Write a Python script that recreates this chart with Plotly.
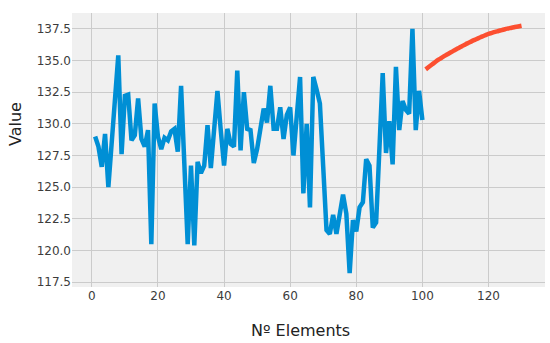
import plotly.graph_objects as go

x_hist = list(range(1, 101))
y_hist = [
    129.0, 128.2, 126.6, 129.2, 125.0, 128.3, 131.8, 135.4, 127.6, 132.2,
    132.3, 128.7, 129.1, 132.0, 128.8, 128.2, 129.5, 120.5, 131.6, 129.0,
    128.0, 128.9, 128.7, 129.4, 129.6, 127.8, 133.0, 127.0, 120.5, 126.7,
    120.4, 127.0, 126.1, 126.7, 129.9, 126.5, 129.5, 132.6, 129.5, 126.7,
    129.6, 128.4, 128.2, 134.2, 127.9, 132.5, 129.6, 129.5, 126.9, 128.0,
    129.6, 131.2, 130.1, 133.0, 129.6, 129.6, 131.3, 128.8, 130.7, 131.3,
    127.5, 130.6, 133.7, 124.5, 130.0, 123.4, 133.7, 132.7, 131.6, 126.6,
    121.6, 121.3, 122.8, 121.3, 122.9, 124.4, 122.9, 118.2, 122.4, 121.5,
    123.4, 123.8, 127.2, 126.7, 121.8, 122.2, 128.0, 134.0, 127.7, 130.2,
    126.8, 134.5, 129.5, 131.8, 131.1, 130.8, 137.5, 129.5, 132.6, 130.3,
]

x_pred = list(range(101, 131))
y_pred = [
    134.30, 134.50, 134.70, 134.90, 135.08, 135.24, 135.40, 135.55, 135.70, 135.85,
    135.99, 136.13, 136.27, 136.40, 136.53, 136.65, 136.77, 136.88, 136.99, 137.10,
    137.18, 137.26, 137.33, 137.40, 137.47, 137.53, 137.59, 137.64, 137.69, 137.74,
]

x_ticks = [0, 20, 40, 60, 80, 100, 120]
y_ticks = [117.5, 120.0, 122.5, 125.0, 127.5, 130.0, 132.5, 135.0, 137.5]
x_title = "Nº Elements"
y_title = "Value"

fig = go.Figure()
fig.add_trace(go.Scatter(x=x_hist, y=y_hist, mode="lines",
                         line=dict(color="#008fd5", width=4.5), showlegend=False))
fig.add_trace(go.Scatter(x=x_pred, y=y_pred, mode="lines",
                         line=dict(color="#fc4f30", width=4.5, shape="spline"),
                         showlegend=False))

L, R, T, B = 72, 5, 13, 56
W, H = 550, 343
pw, ph = W - L - R, H - T - B

fig.update_layout(
    width=W, height=H,
    margin=dict(l=L, r=R, t=T, b=B),
    paper_bgcolor="white",
    plot_bgcolor="#f0f0f0",
    font=dict(family="DejaVu Sans", color="#3c3c3c", size=12),
    xaxis=dict(range=[-6.0, 137.1], tickvals=x_ticks,
               ticktext=[str(v) for v in x_ticks],
               showgrid=True, gridcolor="#cbcbcb", gridwidth=1,
               zeroline=False, showline=False, ticks="", ticklen=0,
               tickfont=dict(size=12, color="#3c3c3c")),
    yaxis=dict(range=[117.11, 138.75], tickvals=y_ticks,
               ticktext=[f"{v:.1f}" for v in y_ticks],
               showgrid=True, gridcolor="#cbcbcb", gridwidth=1,
               zeroline=False, showline=False, ticks="", ticklen=0,
               tickfont=dict(size=12, color="#3c3c3c")),
    annotations=[
        dict(text=x_title, xref="paper", yref="paper",
             x=(300 - L) / pw, y=-(330 - (T + ph)) / ph,
             showarrow=False, xanchor="center", yanchor="middle",
             font=dict(size=16, color="#222222")),
        dict(text=y_title, xref="paper", yref="paper",
             x=(15 - L) / pw, y=(T + ph - 124) / ph,
             showarrow=False, xanchor="center", yanchor="middle", textangle=-90,
             font=dict(size=16, color="#222222")),
    ],
)

fig.write_html(
    "out.html",
    config={"displayModeBar": False},
    post_script="document.body.style.margin='0';document.body.style.overflow='hidden';",
)
